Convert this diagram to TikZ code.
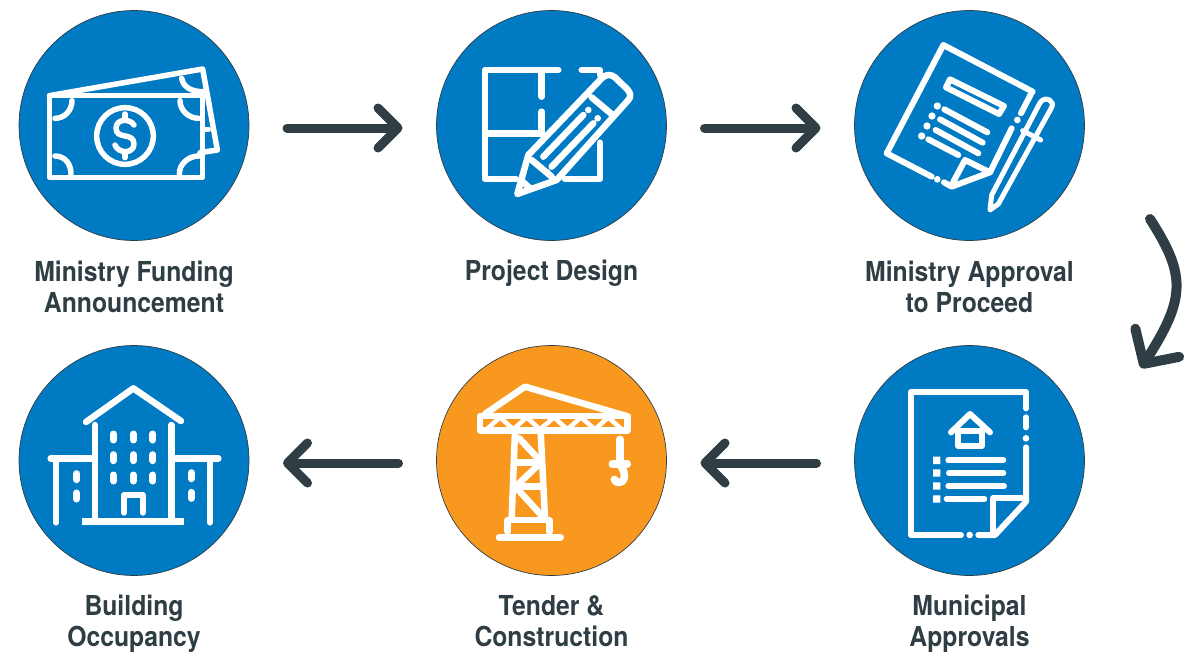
\documentclass[tikz,border=0pt]{standalone}
\usepackage{fontspec}
\setmainfont{TeX Gyre Heros}[FakeStretch=0.90,BoldFont={TeX Gyre Heros Bold}]
\usetikzlibrary{arrows.meta}
\definecolor{cblue}{HTML}{007AC2}
\definecolor{corange}{HTML}{F9981F}
\definecolor{cdark}{HTML}{2F3D44}
\tikzset{
 stage/.style={circle,draw=cdark,line width=.7pt,fill=cblue,minimum size=230pt,inner sep=0pt},
 caption/.style={text=cdark,font=\fontsize{27.5}{31}\selectfont\bfseries,align=center,inner sep=0pt},
 flow/.style={cdark,line width=9pt,line cap=round,-{Straight Barb[length=20pt,width=40pt,line width=9pt,round]}},
 ic/.style={white,line width=5.5pt,line cap=round,line join=round},
 icon/.style={shift={(#1)},x=0.33333pt,y=-0.33333pt},
}
\begin{document}
\begin{tikzpicture}[x=1pt,y=-1pt]
\useasboundingbox (0,0) rectangle (1200,661);
\node[stage] (s1) at (134,125.5) {};
\node[stage] (s2) at (551.5,125.5) {};
\node[stage] (s3) at (969.5,125.5) {};
\node[stage] (s4) at (969.5,460.5) {};
\node[stage,fill=corange] (s5) at (551.5,460.5) {};
\node[stage] (s6) at (134,460.5) {};
\node[caption] (t1) at (134,286.5) {Ministry Funding\\Announcement};
\node[caption] (t2) at (551.5,273) {Project Design};
\node[caption] (t3) at (969.5,286.5) {Ministry Approval\\to Proceed};
\node[caption] (t4) at (969.5,624) {Municipal\\Approvals};
\node[caption] (t5) at (551.5,621.5) {Tender \&\\Construction};
\node[caption] (t6) at (134,624) {Building\\Occupancy};
% connectors
\coordinate (a1) at ([yshift=-2.5pt]s1.center);
\coordinate (a2) at ([yshift=-2.5pt]s2.center);
\coordinate (a3) at ([yshift=-2.5pt]s3.center);
\coordinate (a4) at ([yshift=-2.5pt]s4.center);
\coordinate (a5) at ([yshift=-2.5pt]s5.center);
\coordinate (a6) at ([yshift=-2.5pt]s6.center);
\draw[flow,shorten <=153pt,shorten >=149pt] (a1) -- (a2);
\draw[flow,shorten <=153pt,shorten >=149pt] (a2) -- (a3);
\draw[flow,shorten <=153pt,shorten >=149pt] (a4) -- (a5);
\draw[flow,shorten <=153pt,shorten >=149pt] (a5) -- (a6);
\coordinate (cs) at (1150,219);
\coordinate (ce) at (1141,368);
\draw[cdark,line width=10pt,line cap=round,-{Straight Barb[length=25pt,width=52pt,line width=10pt,round]}] (cs) .. controls (1186,275) and (1186,298) .. (ce);
% icon 1: banknotes
\begin{scope}[icon={10,0},ic]
\draw (118,287) rectangle (577,532);
\draw (118,287) -- (578,207) -- (622,450) -- (570,458);
\draw (580,388) -- (595,388);
\draw (186,302) .. controls (186,330) and (165,355) .. (135,355);
\draw (510,302) .. controls (510,330) and (535,355) .. (566,355);
\draw (135,468) .. controls (165,468) and (183,492) .. (183,522);
\draw (566,468) .. controls (535,468) and (508,492) .. (508,522);
\draw (515,235) .. controls (520,262) and (545,275) .. (578,275);
\draw (345,408) circle (85);
\draw (372,375) .. controls (360,355) and (318,355) .. (318,385) .. controls (318,420) and (372,395) .. (372,432) .. controls (372,462) and (325,462) .. (315,435);
\draw (345,342) -- (345,358) (345,458) -- (345,473);
\end{scope}
% icon 2: plan and pencil
\begin{scope}[icon={430,0},ic,line width=6.5pt]
\draw (385,210) -- (165,210) -- (165,537) -- (258,537);
\draw (335,215) -- (335,290) (335,335) -- (335,400) -- (165,400);
\draw (455,210) -- (510,210) -- (510,225);
\draw (405,537) -- (510,537) -- (510,428);
\draw (262,582) -- (295,465) -- (515,235) .. controls (528,222) and (542,222) .. (555,232) -- (592,268) .. controls (603,280) and (603,290) .. (595,300) -- (380,540) -- cycle;
\draw (485,292) -- (548,345);
\draw (340,470) -- (460,345) (365,500) -- (490,370);
\fill[white] (475,330) circle (10) (503,355) circle (10) (352,517) circle (10);
\draw (305,480) -- (365,530);
\draw (278,545) -- (300,565);
\end{scope}
% icon 3: document and pen
\begin{scope}[icon={850,0},ic,line width=6pt]
\draw (548,275) -- (280,135) -- (110,460) -- (245,530);
\draw (282,547) -- (305,560) -- (420,517) -- (485,385);
\draw (513,340) -- (545,278);
\draw (305,555) -- (345,480) -- (420,517);
\fill[white] (262,538) circle (10) (502,360) circle (10);
\draw (300,238) -- (462,318) -- (447,342) -- (288,262) -- cycle;
\draw (283,328) -- (412,397) (270,358) -- (398,428) (257,390) -- (385,460) (235,418) -- (325,465);
\fill[white] (262,318) circle (11) (246,348) circle (11) (231,378) circle (11) (215,408) circle (11);
\begin{scope}[line width=5pt]
\draw (568,312) .. controls (578,292) and (598,292) .. (607,310) .. controls (608,316) and (606,320) .. (604,324) -- (445,612) -- (420,630) -- (425,585) -- cycle;
\draw (518,392) -- (572,420);
\end{scope}
\end{scope}
% icon 4: permit
\begin{scope}[icon={850,340},ic,line width=6pt]
\draw (528,205) -- (528,155) -- (183,155) -- (183,585) -- (333,585);
\fill[white] (359,585) circle (10) (528,295) circle (10);
\draw (385,585) -- (435,585) -- (528,485) -- (528,322);
\draw (528,232) -- (528,262);
\draw (520,475) -- (428,475) -- (428,580);
\draw (303,277) -- (360,222) -- (420,277);
\draw (325,270) -- (325,318) -- (395,318) -- (395,270) (330,272) -- (390,272);
\draw (295,361) -- (460,361) (297,399) -- (460,399) (295,438) -- (462,438) (290,477) -- (403,477);
\fill[white] (249,350) rectangle (271,372) (249,388) rectangle (271,410) (249,427) rectangle (271,449) (249,466) rectangle (271,488);
\end{scope}
% icon 5: crane
\begin{scope}[icon={430,340},ic,line width=6.5pt]
\draw (150,228) rectangle (592,272);
\draw (165,222) -- (285,140) -- (590,228);
\begin{scope}[line width=4.5pt]
\draw (170,268) -- (210,232) -- (250,268) -- (290,232) -- (330,268) -- (372,232) -- (412,268) -- (453,232) -- (495,268) -- (535,232) -- (575,268);
\end{scope}
\draw (255,275) -- (245,535) (332,275) -- (345,535);
\draw (262,367) -- (330,367) (262,440) -- (335,440);
\draw (268,295) -- (328,360) (262,435) -- (330,370) (265,450) -- (338,530);
\draw (233,575) -- (233,540) -- (358,540) -- (358,575);
\draw (207,593) -- (392,593);
\begin{scope}[line width=7.5pt]
\draw (570,298) -- (570,365) (547,372) -- (592,372);
\draw (572,378) .. controls (590,400) and (585,428) .. (567,428) .. controls (560,428) and (555,424) .. (553,418);
\end{scope}
\end{scope}
% icon 6: building
\begin{scope}[icon={10,340},ic]
\draw[line width=6.5pt] (228,246) -- (370,145) -- (513,243);
\draw[line width=6.5pt] (255,255) -- (255,540) (484,255) -- (484,540);
\draw[line width=6.5pt,line cap=butt] (216,544) -- (522,544);
\draw[line width=6.5pt] (122,355) -- (245,355) (495,355) -- (625,355);
\draw[line width=6.5pt] (138,360) -- (138,547) (600,360) -- (600,547);
\draw[line width=6pt] (342,518) -- (342,465) -- (398,465) -- (398,518);
\begin{scope}[line width=7pt]
\foreach \px in {310,370,429}{\foreach \py in {291,353,414}{\draw (\px,\py-9) -- (\px,\py+9);}}
\foreach \px/\py in {200/410,200/468,544/407,544/466}{\draw (\px,\py-9) -- (\px,\py+9);}
\end{scope}
\end{scope}
\end{tikzpicture}
\end{document}
